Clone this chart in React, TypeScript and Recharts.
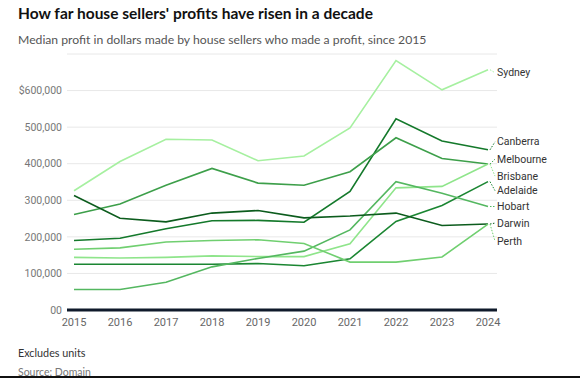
import React from 'react';
import { CartesianGrid, LabelList, Line, LineChart, XAxis, YAxis } from 'recharts';

const years = ['2015', '2016', '2017', '2018', '2019', '2020', '2021', '2022', '2023', '2024'];

const sydney = [326000, 406000, 467000, 465000, 408000, 421000, 498000, 682000, 602000, 657000];
const canberra = [190000, 196000, 222000, 244000, 245000, 240000, 324000, 523000, 462000, 438000];
const melbourne = [261000, 290000, 341000, 387000, 347000, 341000, 378000, 471000, 414000, 399000];
const brisbane = [144000, 142000, 144000, 148000, 146000, 146000, 181000, 334000, 338000, 399000];
const adelaide = [125000, 125000, 125000, 125000, 127000, 121000, 140000, 242000, 286000, 351000];
const hobart = [56000, 56000, 76000, 118000, 141000, 161000, 219000, 351000, 319000, 283000];
const darwin = [313000, 251000, 241000, 265000, 272000, 252000, 257000, 265000, 231000, 235000];
const perth = [166000, 170000, 186000, 190000, 192000, 182000, 131000, 131000, 145000, 235000];

const yTicks = [0, 100000, 200000, 300000, 400000, 500000, 600000];

// name, values, colour, vertical nudge of the end label
const cities: [string, number[], string, number][] = [
  ['Sydney', sydney, '#a6f0a0', 3],
  ['Canberra', canberra, '#14792b', -8],
  ['Melbourne', melbourne, '#3d9f4a', -5],
  ['Brisbane', brisbane, '#8fe58b', 12],
  ['Adelaide', adelaide, '#1b8632', 9],
  ['Hobart', hobart, '#54b760', 0],
  ['Darwin', darwin, '#0c5c1d', -1],
  ['Perth', perth, '#70cf70', 17],
];

const data = years.map((year, i) => {
  const row: any = { year };
  cities.forEach(([name, values]) => (row[name] = values[i]));
  return row;
});

const font = 'Roboto, "Noto Sans", sans-serif';
const head = 'Lato, Roboto, sans-serif';

const fmtY = (v: number) => (v === 0 ? '00' : v === 600000 ? '$600,000' : v.toLocaleString('en-US'));

function endLabel(name: string, color: string, dy: number) {
  return (props: any) => {
    if (props.index !== years.length - 1) return null;
    const x = Number(props.x);
    const y = Number(props.y);
    return (
      <g>
        <line x1={x + 2} y1={y} x2={x + 7} y2={y + dy} stroke={color} strokeWidth={1} strokeDasharray="1.5 1.5" />
        <text x={x + 9} y={y + dy} dy="0.35em" fontSize={10.5} fill="#333" fontFamily={font}>
          {name}
        </text>
      </g>
    );
  };
}

export default function App() {
  return (
    <div style={{ position: 'absolute', left: 0, top: 0, width: 580, height: 378, background: '#fff', overflow: 'hidden' }}>
      <div style={{ position: 'absolute', left: 18, top: 4, fontFamily: head, fontWeight: 700, fontSize: 15.5, color: '#111', whiteSpace: 'nowrap' }}>
        How far house sellers' profits have risen in a decade
      </div>
      <div style={{ position: 'absolute', left: 18, top: 32, fontFamily: head, fontSize: 12.2, color: '#555', whiteSpace: 'nowrap' }}>
        Median profit in dollars made by house sellers who made a profit, since 2015
      </div>
      <div style={{ position: 'absolute', left: 0, top: 0 }}>
        <LineChart width={580} height={340} data={data} margin={{ top: 54, right: 83, left: 0, bottom: 6 }}>
          <CartesianGrid horizontal vertical={false} stroke="#e8e8e8" />
          <XAxis
            dataKey="year"
            padding={{ left: 7, right: 9 }}
            axisLine={{ stroke: '#0f1a2b', strokeWidth: 3 }}
            tickLine={false}
            height={24}
            tick={{ fontSize: 11, fill: '#666', fontFamily: font }}
            tickMargin={2}
          />
          <YAxis
            width={67}
            domain={[0, 700000]}
            ticks={yTicks}
            tickFormatter={fmtY}
            axisLine={false}
            tickLine={false}
            tickSize={3}
            tickMargin={2}
            tick={{ fontSize: 10.5, fill: '#777', fontFamily: font }}
          />
          {cities.map(([name, , color, dy]) => (
            <Line
              key={name}
              dataKey={name}
              type="linear"
              stroke={color}
              strokeWidth={1.6}
              dot={false}
              isAnimationActive={false}
            >
              <LabelList dataKey={name} content={endLabel(name, color, dy)} />
            </Line>
          ))}
        </LineChart>
      </div>
      <div style={{ position: 'absolute', left: 18, top: 346, fontFamily: head, fontSize: 10.8, color: '#333' }}>Excludes units</div>
      <div style={{ position: 'absolute', left: 18, top: 366, fontFamily: head, fontSize: 10.5, color: '#777' }}>Source: Domain</div>
      <div style={{ position: 'absolute', left: 0, top: 376, width: 580, height: 2, background: '#111' }} />
    </div>
  );
}
